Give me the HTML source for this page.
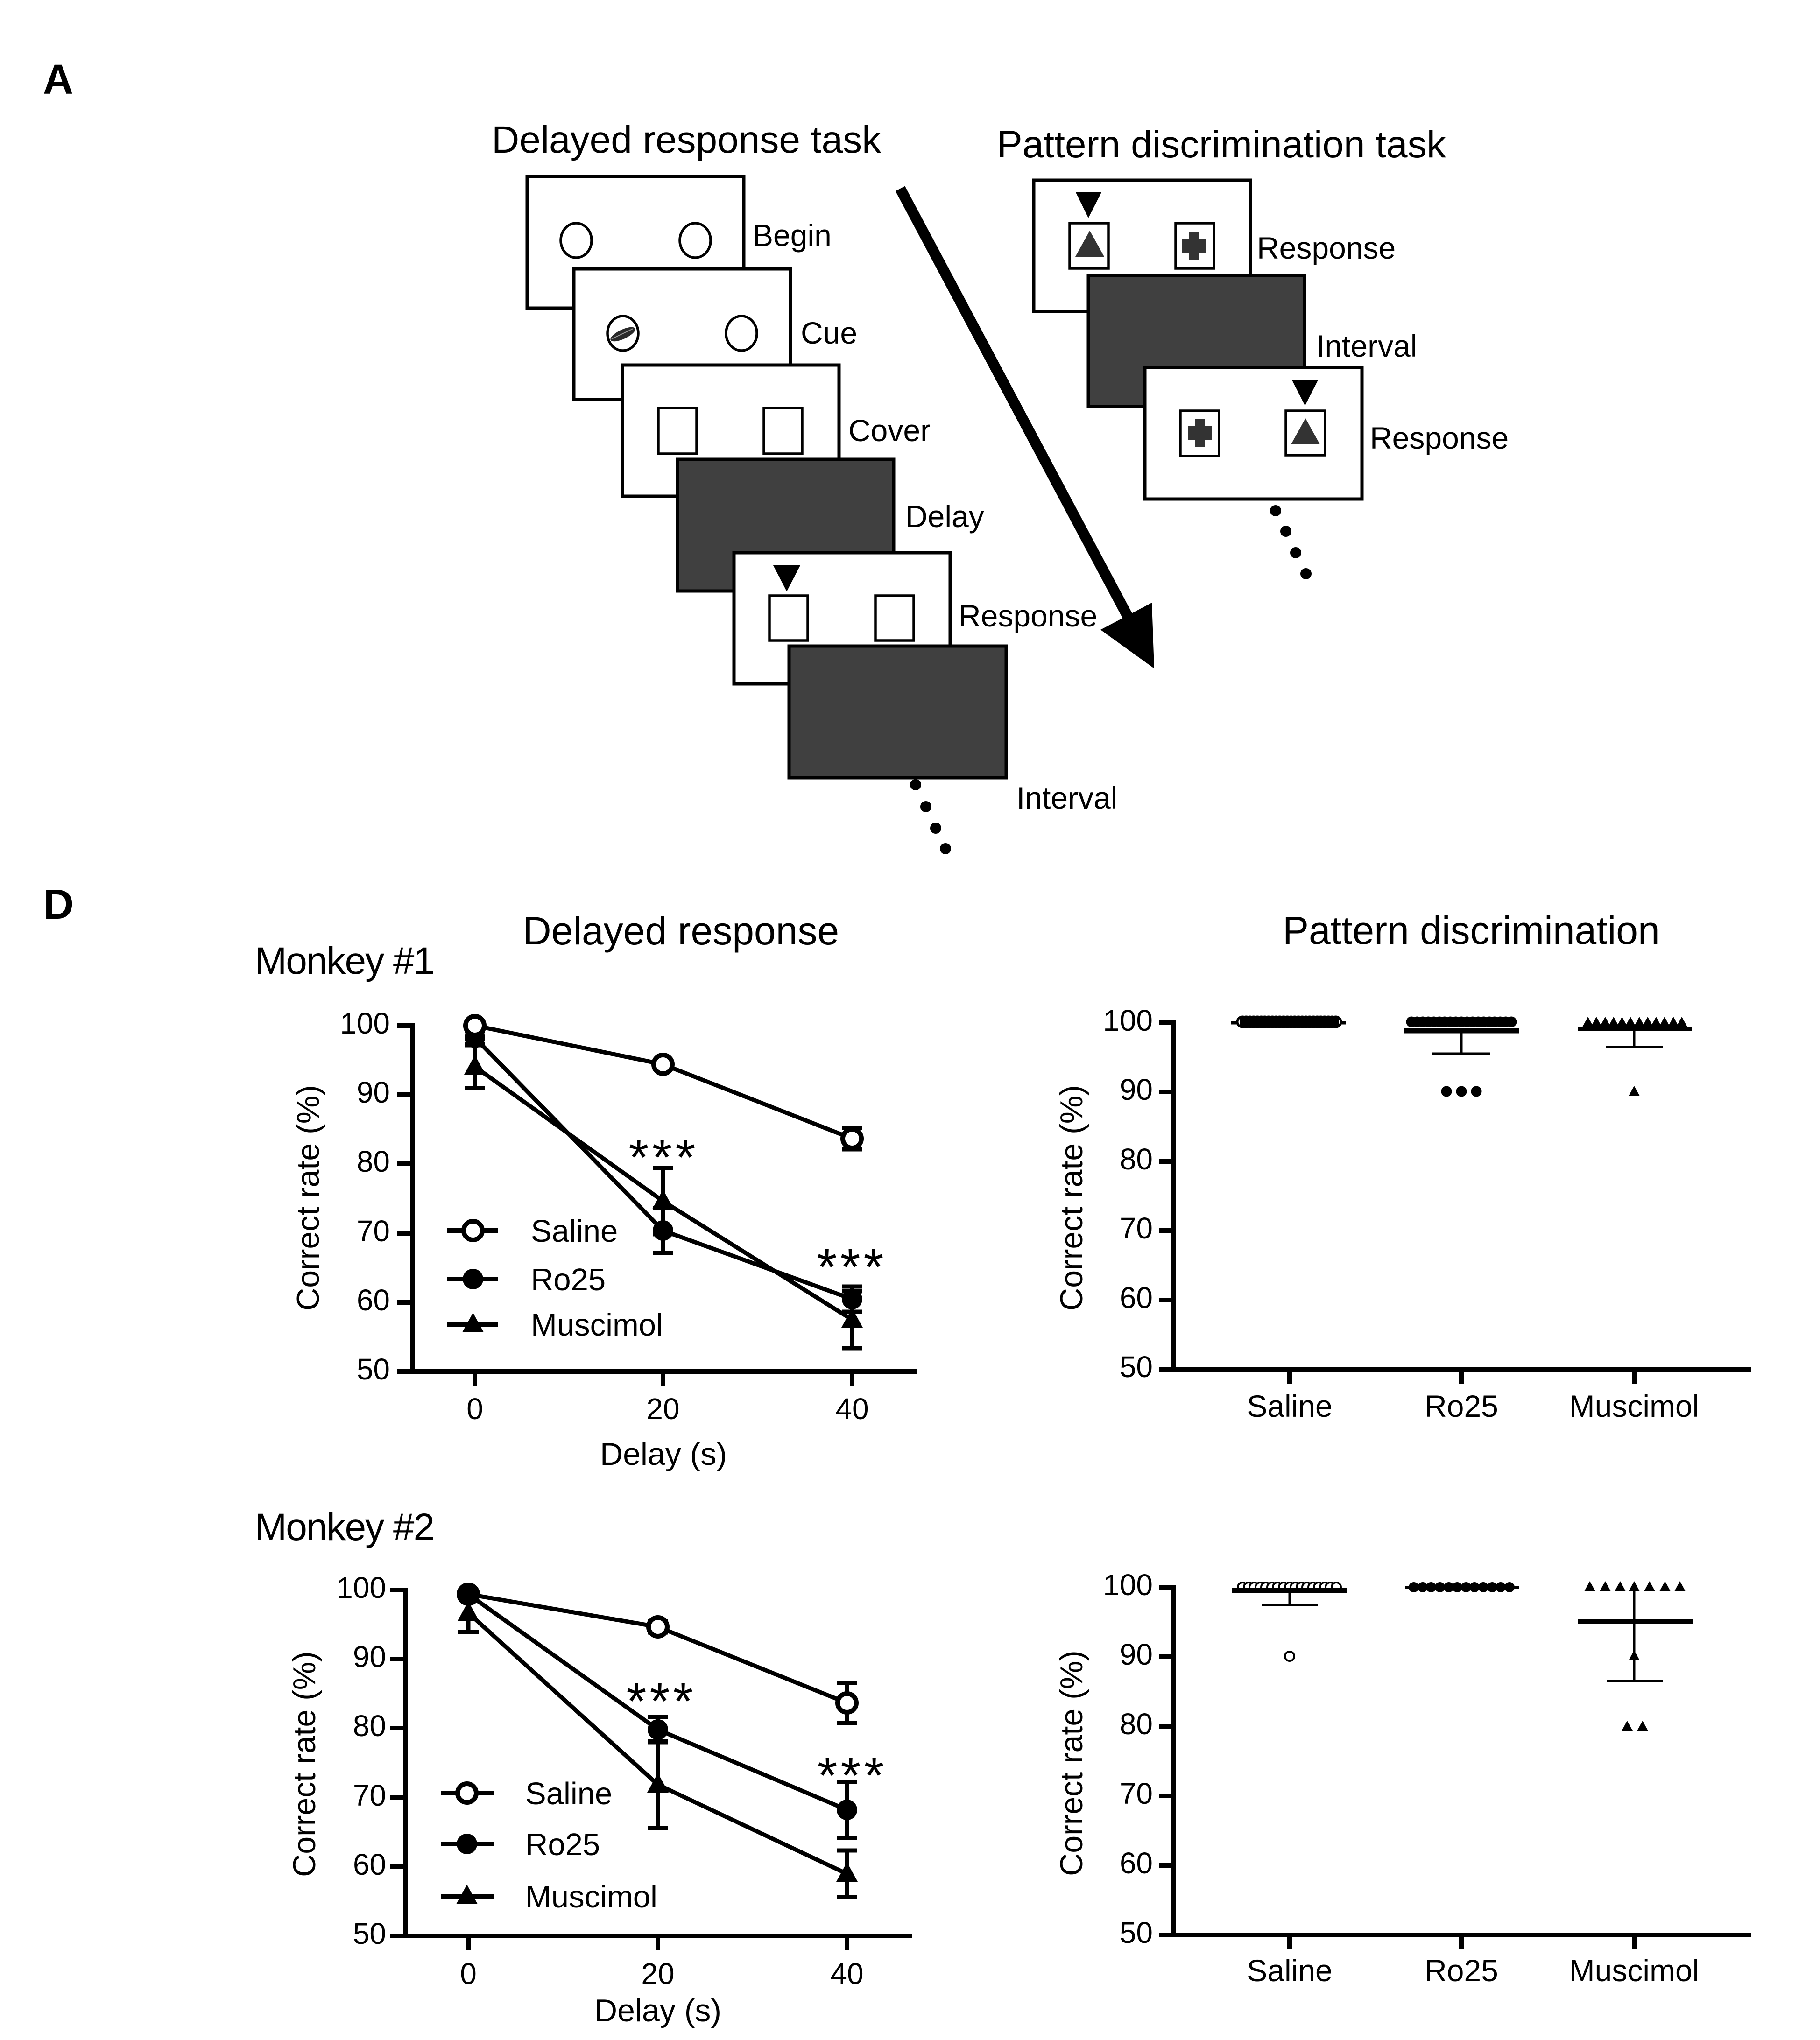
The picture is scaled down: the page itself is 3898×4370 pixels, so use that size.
<!DOCTYPE html>
<html><head><meta charset="utf-8"><style>
html,body{margin:0;padding:0;background:#fff}
svg{display:block}
text{font-family:"Liberation Sans",Arial,sans-serif;fill:#000}
</style></head><body>
<svg xmlns="http://www.w3.org/2000/svg" width="3898" height="4370" viewBox="0 0 3898 4370">
<rect width="3898" height="4370" fill="#fff"/>

<!-- ============ PANEL A ============ -->
<text x="92" y="201" font-size="90" font-weight="bold">A</text>
<text x="1053" y="327" font-size="82">Delayed response task</text>
<text x="2135" y="337" font-size="82">Pattern discrimination task</text>

<g stroke="#000" stroke-width="7">
  <rect x="1129" y="378" width="464" height="282" fill="#fff"/>
  <rect x="1229" y="576" width="464" height="280" fill="#fff"/>
  <rect x="1333" y="782" width="464" height="281" fill="#fff"/>
  <rect x="1451" y="984" width="463" height="282" fill="#404040"/>
  <rect x="1572" y="1184" width="463" height="281" fill="#fff"/>
  <rect x="1690" y="1384" width="465" height="282" fill="#404040"/>
</g>
<g fill="none" stroke="#000" stroke-width="5.5">
  <ellipse cx="1234" cy="515" rx="33" ry="37"/>
  <ellipse cx="1489" cy="515" rx="33" ry="37"/>
  <ellipse cx="1334" cy="714" rx="33" ry="37"/>
  <ellipse cx="1588" cy="714" rx="33" ry="37"/>
  <rect x="1410" y="874" width="82" height="98"/>
  <rect x="1636" y="874" width="82" height="98"/>
  <rect x="1648" y="1276" width="82" height="96"/>
  <rect x="1875" y="1276" width="82" height="96"/>
</g>
<ellipse cx="1334" cy="716" rx="29" ry="10" transform="rotate(-25 1334 716)" fill="#2a2a2a"/>
<path d="M1310,726 L1356,704" stroke="#999" stroke-width="2"/>
<polygon points="1656,1211 1714,1211 1685,1267" fill="#000"/>

<g font-size="66">
  <text x="1612" y="527">Begin</text>
  <text x="1715" y="736">Cue</text>
  <text x="1817" y="945">Cover</text>
  <text x="1939" y="1129">Delay</text>
  <text x="2053" y="1342">Response</text>
  <text x="2177" y="1732">Interval</text>
</g>
<g fill="#000">
  <circle cx="1961" cy="1681" r="12"/><circle cx="1983" cy="1728" r="12"/>
  <circle cx="2004" cy="1774" r="12"/><circle cx="2025" cy="1818" r="12"/>
</g>

<!-- arrow -->
<line x1="1928" y1="404" x2="2422" y2="1333" stroke="#000" stroke-width="23"/>
<polygon points="2472,1432 2357,1349 2467,1291" fill="#000"/>

<!-- right stack -->
<g stroke="#000" stroke-width="7">
  <rect x="2214" y="386" width="464" height="281" fill="#fff"/>
  <rect x="2331" y="590" width="463" height="281" fill="#404040"/>
  <rect x="2452" y="787" width="465" height="282" fill="#fff"/>
</g>
<g fill="none" stroke="#000" stroke-width="5.5">
  <rect x="2291" y="478" width="83" height="97"/>
  <rect x="2518" y="478" width="82" height="97"/>
  <rect x="2528" y="880" width="83" height="97"/>
  <rect x="2754" y="880" width="84" height="95"/>
</g>
<polygon points="2304,412 2359,412 2331,467" fill="#000"/>
<polygon points="2767,814 2823,814 2795,869" fill="#000"/>
<polygon points="2334,494 2303,550 2365,550" fill="#333"/>
<polygon points="2796,896 2765,952 2827,952" fill="#333"/>
<g fill="#333">
  <rect x="2532" y="511" width="50" height="30"/><rect x="2546" y="496" width="22" height="60"/>
  <rect x="2545" y="913" width="50" height="30"/><rect x="2559" y="898" width="22" height="60"/>
</g>
<g font-size="66">
  <text x="2692" y="554">Response</text>
  <text x="2819" y="764">Interval</text>
  <text x="2934" y="961">Response</text>
</g>
<g fill="#000">
  <circle cx="2732" cy="1094" r="12"/><circle cx="2754" cy="1138" r="12"/>
  <circle cx="2775" cy="1184" r="12"/><circle cx="2797" cy="1229" r="12"/>
</g>

<!-- ============ PANEL D ============ -->
<text x="93" y="1968" font-size="90" font-weight="bold">D</text>
<text x="546" y="2086" font-size="82" letter-spacing="-2">Monkey #1</text>
<text x="546" y="3299" font-size="82" letter-spacing="-2">Monkey #2</text>
<text x="1120" y="2023" font-size="84">Delayed response</text>
<text x="2747" y="2022" font-size="84">Pattern discrimination</text>

<!-- ===== Top-left chart ===== -->
<g stroke="#000" stroke-width="10" fill="none">
  <polyline points="883,2192 883,2938 1963,2938"/>
  <line x1="850" y1="2197" x2="883" y2="2197"/>
  <line x1="850" y1="2345" x2="883" y2="2345"/>
  <line x1="850" y1="2493" x2="883" y2="2493"/>
  <line x1="850" y1="2642" x2="883" y2="2642"/>
  <line x1="850" y1="2790" x2="883" y2="2790"/>
  <line x1="850" y1="2938" x2="883" y2="2938"/>
  <line x1="1017" y1="2938" x2="1017" y2="2970"/>
  <line x1="1420" y1="2938" x2="1420" y2="2970"/>
  <line x1="1825" y1="2938" x2="1825" y2="2970"/>
</g>
<g font-size="64" text-anchor="end">
  <text x="835" y="2214">100</text><text x="835" y="2362">90</text>
  <text x="835" y="2510">80</text><text x="835" y="2659">70</text>
  <text x="835" y="2807">60</text><text x="835" y="2955">50</text>
</g>
<g font-size="64" text-anchor="middle">
  <text x="1017" y="3040">0</text><text x="1420" y="3040">20</text><text x="1825" y="3040">40</text>
</g>
<text x="1421" y="3138" font-size="68" text-anchor="middle">Delay (s)</text>
<text transform="translate(683,2566) rotate(-90)" font-size="68" text-anchor="middle">Correct rate (%)</text>

<g stroke="#000" stroke-width="9" fill="none">
  <polyline points="1017,2197 1420,2280 1825,2439"/>
  <polyline points="1017,2223 1420,2636 1825,2783"/>
  <polyline points="1017,2285 1420,2573 1825,2827"/>
  <path d="M1825,2416V2462M1803,2416H1847M1803,2462H1847"/>
  <path d="M1017,2209V2237M995,2209H1039M995,2237H1039"/>
  <path d="M1420,2588V2684M1398,2588H1442M1398,2684H1442"/>
  <path d="M1825,2756V2810M1803,2756H1847M1803,2810H1847"/>
  <path d="M1017,2239V2331M995,2239H1039M995,2331H1039"/>
  <path d="M1420,2502V2644M1398,2502H1442M1398,2644H1442"/>
  <path d="M1825,2766V2888M1803,2766H1847M1803,2888H1847"/>
</g>
<g fill="#000">
  <path d="M1017,2260 L1040,2302 L994,2302 Z"/>
  <path d="M1420,2548 L1443,2590 L1397,2590 Z"/>
  <path d="M1825,2802 L1848,2844 L1802,2844 Z"/>
  <circle cx="1017" cy="2223" r="22"/>
  <circle cx="1420" cy="2636" r="22"/>
  <circle cx="1825" cy="2783" r="22"/>
</g>
<g fill="#fff" stroke="#000" stroke-width="10">
  <circle cx="1017" cy="2197" r="20"/>
  <circle cx="1420" cy="2280" r="20"/>
  <circle cx="1825" cy="2439" r="20"/>
</g>
<g font-size="110" text-anchor="middle">
  <text x="1368" y="2517">*</text><text x="1418" y="2517">*</text><text x="1468" y="2517">*</text>
  <text x="1771" y="2752">*</text><text x="1821" y="2752">*</text><text x="1871" y="2752">*</text>
</g>
<g stroke="#000" stroke-width="10">
  <line x1="957" y1="2636" x2="1067" y2="2636"/>
  <line x1="957" y1="2740" x2="1067" y2="2740"/>
  <line x1="957" y1="2837" x2="1067" y2="2837"/>
</g>
<circle cx="1013" cy="2636" r="20" fill="#fff" stroke="#000" stroke-width="10"/>
<circle cx="1013" cy="2740" r="22" fill="#000"/>
<path d="M1013,2812 L1036,2854 L990,2854 Z" fill="#000"/>
<g font-size="67">
  <text x="1137" y="2660">Saline</text>
  <text x="1137" y="2764">Ro25</text>
  <text x="1137" y="2861">Muscimol</text>
</g>

<!-- ===== Bottom-left chart ===== -->
<g stroke="#000" stroke-width="10" fill="none">
  <polyline points="868,3401 868,4147 1954,4147"/>
  <line x1="835" y1="3406" x2="868" y2="3406"/>
  <line x1="835" y1="3554" x2="868" y2="3554"/>
  <line x1="835" y1="3702" x2="868" y2="3702"/>
  <line x1="835" y1="3851" x2="868" y2="3851"/>
  <line x1="835" y1="3999" x2="868" y2="3999"/>
  <line x1="835" y1="4147" x2="868" y2="4147"/>
  <line x1="1003" y1="4147" x2="1003" y2="4177"/>
  <line x1="1409" y1="4147" x2="1409" y2="4177"/>
  <line x1="1814" y1="4147" x2="1814" y2="4177"/>
</g>
<g font-size="64" text-anchor="end">
  <text x="827" y="3423">100</text><text x="827" y="3571">90</text>
  <text x="827" y="3719">80</text><text x="827" y="3868">70</text>
  <text x="827" y="4016">60</text><text x="827" y="4164">50</text>
</g>
<g font-size="64" text-anchor="middle">
  <text x="1003" y="4250">0</text><text x="1409" y="4250">20</text><text x="1814" y="4250">40</text>
</g>
<text x="1409" y="4330" font-size="68" text-anchor="middle">Delay (s)</text>
<text transform="translate(675,3779) rotate(-90)" font-size="68" text-anchor="middle">Correct rate (%)</text>

<g stroke="#000" stroke-width="9" fill="none">
  <polyline points="1003,3415 1409,3485 1814,3648"/>
  <polyline points="1003,3415 1409,3705 1814,3877"/>
  <polyline points="1003,3455 1409,3823 1814,4014"/>
  <path d="M1409,3473V3497M1387,3473H1431M1387,3497H1431"/>
  <path d="M1814,3605V3691M1792,3605H1836M1792,3691H1836"/>
  <path d="M1409,3678V3732M1387,3678H1431M1387,3732H1431"/>
  <path d="M1814,3817V3937M1792,3817H1836M1792,3937H1836"/>
  <path d="M1003,3414V3496M981,3414H1025M981,3496H1025"/>
  <path d="M1409,3730V3916M1387,3730H1431M1387,3916H1431"/>
  <path d="M1814,3964V4064M1792,3964H1836M1792,4064H1836"/>
</g>
<g fill="#fff" stroke="#000" stroke-width="10">
  <circle cx="1003" cy="3415" r="20"/>
  <circle cx="1409" cy="3485" r="20"/>
  <circle cx="1814" cy="3648" r="20"/>
</g>
<g fill="#000">
  <circle cx="1003" cy="3415" r="22"/>
  <circle cx="1409" cy="3705" r="22"/>
  <circle cx="1814" cy="3877" r="22"/>
  <path d="M1003,3430 L1026,3472 L980,3472 Z"/>
  <path d="M1409,3798 L1432,3840 L1386,3840 Z"/>
  <path d="M1814,3989 L1837,4031 L1791,4031 Z"/>
</g>
<g font-size="110" text-anchor="middle">
  <text x="1363" y="3682">*</text><text x="1413" y="3682">*</text><text x="1463" y="3682">*</text>
  <text x="1772" y="3841">*</text><text x="1822" y="3841">*</text><text x="1872" y="3841">*</text>
</g>
<g stroke="#000" stroke-width="10">
  <line x1="944" y1="3841" x2="1058" y2="3841"/>
  <line x1="944" y1="3950" x2="1058" y2="3950"/>
  <line x1="944" y1="4062" x2="1058" y2="4062"/>
</g>
<circle cx="1000" cy="3841" r="20" fill="#fff" stroke="#000" stroke-width="10"/>
<circle cx="1000" cy="3950" r="22" fill="#000"/>
<path d="M1000,4037 L1023,4079 L977,4079 Z" fill="#000"/>
<g font-size="67">
  <text x="1125" y="3865">Saline</text>
  <text x="1125" y="3974">Ro25</text>
  <text x="1125" y="4086">Muscimol</text>
</g>

<!-- ===== Top-right chart ===== -->
<g stroke="#000" stroke-width="10" fill="none">
  <polyline points="2514,2186 2514,2933 3751,2933"/>
  <line x1="2482" y1="2191" x2="2514" y2="2191"/>
  <line x1="2482" y1="2339" x2="2514" y2="2339"/>
  <line x1="2482" y1="2488" x2="2514" y2="2488"/>
  <line x1="2482" y1="2636" x2="2514" y2="2636"/>
  <line x1="2482" y1="2785" x2="2514" y2="2785"/>
  <line x1="2482" y1="2933" x2="2514" y2="2933"/>
  <line x1="2762" y1="2933" x2="2762" y2="2964"/>
  <line x1="3130" y1="2933" x2="3130" y2="2964"/>
  <line x1="3500" y1="2933" x2="3500" y2="2964"/>
</g>
<g font-size="64" text-anchor="end">
  <text x="2469" y="2208">100</text><text x="2469" y="2356">90</text>
  <text x="2469" y="2505">80</text><text x="2469" y="2653">70</text>
  <text x="2469" y="2802">60</text><text x="2469" y="2950">50</text>
</g>
<g font-size="66" text-anchor="middle">
  <text x="2762" y="3035">Saline</text><text x="3130" y="3035">Ro25</text><text x="3500" y="3035">Muscimol</text>
</g>
<text transform="translate(2318,2566) rotate(-90)" font-size="68" text-anchor="middle">Correct rate (%)</text>

<line x1="2637" y1="2191" x2="2883" y2="2191" stroke="#000" stroke-width="7"/>
<g fill="#fff" stroke="#000" stroke-width="5">
  <circle cx="2661" cy="2189" r="11"/><circle cx="2669" cy="2189" r="11"/><circle cx="2677" cy="2189" r="11"/><circle cx="2685" cy="2189" r="11"/><circle cx="2693" cy="2189" r="11"/><circle cx="2701" cy="2189" r="11"/><circle cx="2709" cy="2189" r="11"/><circle cx="2717" cy="2189" r="11"/><circle cx="2725" cy="2189" r="11"/><circle cx="2733" cy="2189" r="11"/><circle cx="2741" cy="2189" r="11"/><circle cx="2749" cy="2189" r="11"/><circle cx="2757" cy="2189" r="11"/><circle cx="2765" cy="2189" r="11"/><circle cx="2773" cy="2189" r="11"/><circle cx="2781" cy="2189" r="11"/><circle cx="2789" cy="2189" r="11"/><circle cx="2797" cy="2189" r="11"/><circle cx="2805" cy="2189" r="11"/><circle cx="2813" cy="2189" r="11"/><circle cx="2821" cy="2189" r="11"/><circle cx="2829" cy="2189" r="11"/><circle cx="2837" cy="2189" r="11"/><circle cx="2845" cy="2189" r="11"/><circle cx="2853" cy="2189" r="11"/><circle cx="2861" cy="2189" r="11"/>
</g>
<rect x="2655" y="2180" width="212" height="18" fill="#000"/>
<g fill="#000">
  <circle cx="3023" cy="2189" r="11.5"/><circle cx="3035" cy="2189" r="11.5"/><circle cx="3047" cy="2189" r="11.5"/><circle cx="3059" cy="2189" r="11.5"/><circle cx="3071" cy="2189" r="11.5"/><circle cx="3083" cy="2189" r="11.5"/><circle cx="3094" cy="2189" r="11.5"/><circle cx="3106" cy="2189" r="11.5"/><circle cx="3118" cy="2189" r="11.5"/><circle cx="3130" cy="2189" r="11.5"/><circle cx="3142" cy="2189" r="11.5"/><circle cx="3154" cy="2189" r="11.5"/><circle cx="3166" cy="2189" r="11.5"/><circle cx="3178" cy="2189" r="11.5"/><circle cx="3190" cy="2189" r="11.5"/><circle cx="3201" cy="2189" r="11.5"/><circle cx="3213" cy="2189" r="11.5"/><circle cx="3225" cy="2189" r="11.5"/><circle cx="3237" cy="2189" r="11.5"/>
  <circle cx="3098" cy="2338" r="11.5"/><circle cx="3130" cy="2338" r="11.5"/><circle cx="3162" cy="2338" r="11.5"/>
</g>
<g stroke="#000" fill="none">
  <line x1="3007" y1="2208" x2="3253" y2="2208" stroke-width="11"/>
  <path d="M3130,2208V2257M3068,2257H3191" stroke-width="5"/>
</g>
<g fill="#000">
  <path d="M3401,2178l12,22h-24z"/><path d="M3419,2178l12,22h-24z"/><path d="M3438,2178l12,22h-24z"/><path d="M3456,2178l12,22h-24z"/><path d="M3474,2178l12,22h-24z"/><path d="M3492,2178l12,22h-24z"/><path d="M3511,2178l12,22h-24z"/><path d="M3529,2178l12,22h-24z"/><path d="M3547,2178l12,22h-24z"/><path d="M3565,2178l12,22h-24z"/><path d="M3584,2178l12,22h-24z"/><path d="M3602,2178l12,22h-24z"/>
  <path d="M3500,2326l12,22h-24z"/>
</g>
<g stroke="#000" fill="none">
  <line x1="3379" y1="2204" x2="3624" y2="2204" stroke-width="10"/>
  <path d="M3500,2204V2243M3439,2243H3562" stroke-width="5"/>
</g>

<!-- ===== Bottom-right chart ===== -->
<g stroke="#000" stroke-width="10" fill="none">
  <polyline points="2514,3395 2514,4145 3751,4145"/>
  <line x1="2482" y1="3400" x2="2514" y2="3400"/>
  <line x1="2482" y1="3549" x2="2514" y2="3549"/>
  <line x1="2482" y1="3698" x2="2514" y2="3698"/>
  <line x1="2482" y1="3847" x2="2514" y2="3847"/>
  <line x1="2482" y1="3996" x2="2514" y2="3996"/>
  <line x1="2482" y1="4145" x2="2514" y2="4145"/>
  <line x1="2762" y1="4145" x2="2762" y2="4175"/>
  <line x1="3130" y1="4145" x2="3130" y2="4175"/>
  <line x1="3500" y1="4145" x2="3500" y2="4175"/>
</g>
<g font-size="64" text-anchor="end">
  <text x="2469" y="3417">100</text><text x="2469" y="3566">90</text>
  <text x="2469" y="3715">80</text><text x="2469" y="3864">70</text>
  <text x="2469" y="4013">60</text><text x="2469" y="4162">50</text>
</g>
<g font-size="66" text-anchor="middle">
  <text x="2762" y="4244">Saline</text><text x="3130" y="4244">Ro25</text><text x="3500" y="4244">Muscimol</text>
</g>
<text transform="translate(2318,3777) rotate(-90)" font-size="68" text-anchor="middle">Correct rate (%)</text>

<g fill="#fff" stroke="#000" stroke-width="4">
  <circle cx="2661" cy="3400" r="10"/><circle cx="2674" cy="3400" r="10"/><circle cx="2686" cy="3400" r="10"/><circle cx="2699" cy="3400" r="10"/><circle cx="2711" cy="3400" r="10"/><circle cx="2724" cy="3400" r="10"/><circle cx="2736" cy="3400" r="10"/><circle cx="2749" cy="3400" r="10"/><circle cx="2762" cy="3400" r="10"/><circle cx="2774" cy="3400" r="10"/><circle cx="2787" cy="3400" r="10"/><circle cx="2799" cy="3400" r="10"/><circle cx="2812" cy="3400" r="10"/><circle cx="2824" cy="3400" r="10"/><circle cx="2837" cy="3400" r="10"/><circle cx="2849" cy="3400" r="10"/><circle cx="2862" cy="3400" r="10"/>
  <circle cx="2762" cy="3548" r="10"/>
</g>
<g stroke="#000" fill="none">
  <line x1="2639" y1="3407" x2="2885" y2="3407" stroke-width="10"/>
  <path d="M2762,3407V3438M2703,3438H2823" stroke-width="5"/>
</g>
<line x1="3010" y1="3400" x2="3254" y2="3400" stroke="#000" stroke-width="6"/>
<g fill="#000">
  <circle cx="3028" cy="3400" r="11"/><circle cx="3047" cy="3400" r="11"/><circle cx="3065" cy="3400" r="11"/><circle cx="3084" cy="3400" r="11"/><circle cx="3103" cy="3400" r="11"/><circle cx="3121" cy="3400" r="11"/><circle cx="3140" cy="3400" r="11"/><circle cx="3158" cy="3400" r="11"/><circle cx="3177" cy="3400" r="11"/><circle cx="3196" cy="3400" r="11"/><circle cx="3214" cy="3400" r="11"/><circle cx="3233" cy="3400" r="11"/>
</g>
<g stroke="#000" fill="none">
  <line x1="3379" y1="3474" x2="3626" y2="3474" stroke-width="10"/>
  <path d="M3500,3408V3601M3441,3601H3562" stroke-width="5"/>
</g>
<g fill="#000">
  <path d="M3405,3387l12,22h-24z"/><path d="M3438,3387l12,22h-24z"/><path d="M3470,3387l12,22h-24z"/><path d="M3500,3387l12,22h-24z"/><path d="M3533,3387l12,22h-24z"/><path d="M3566,3387l12,22h-24z"/><path d="M3598,3387l12,22h-24z"/>
  <path d="M3500,3535l12,22h-24z"/>
  <path d="M3485,3686l12,22h-24z"/><path d="M3518,3686l12,22h-24z"/>
</g>
</svg>
</body></html>
